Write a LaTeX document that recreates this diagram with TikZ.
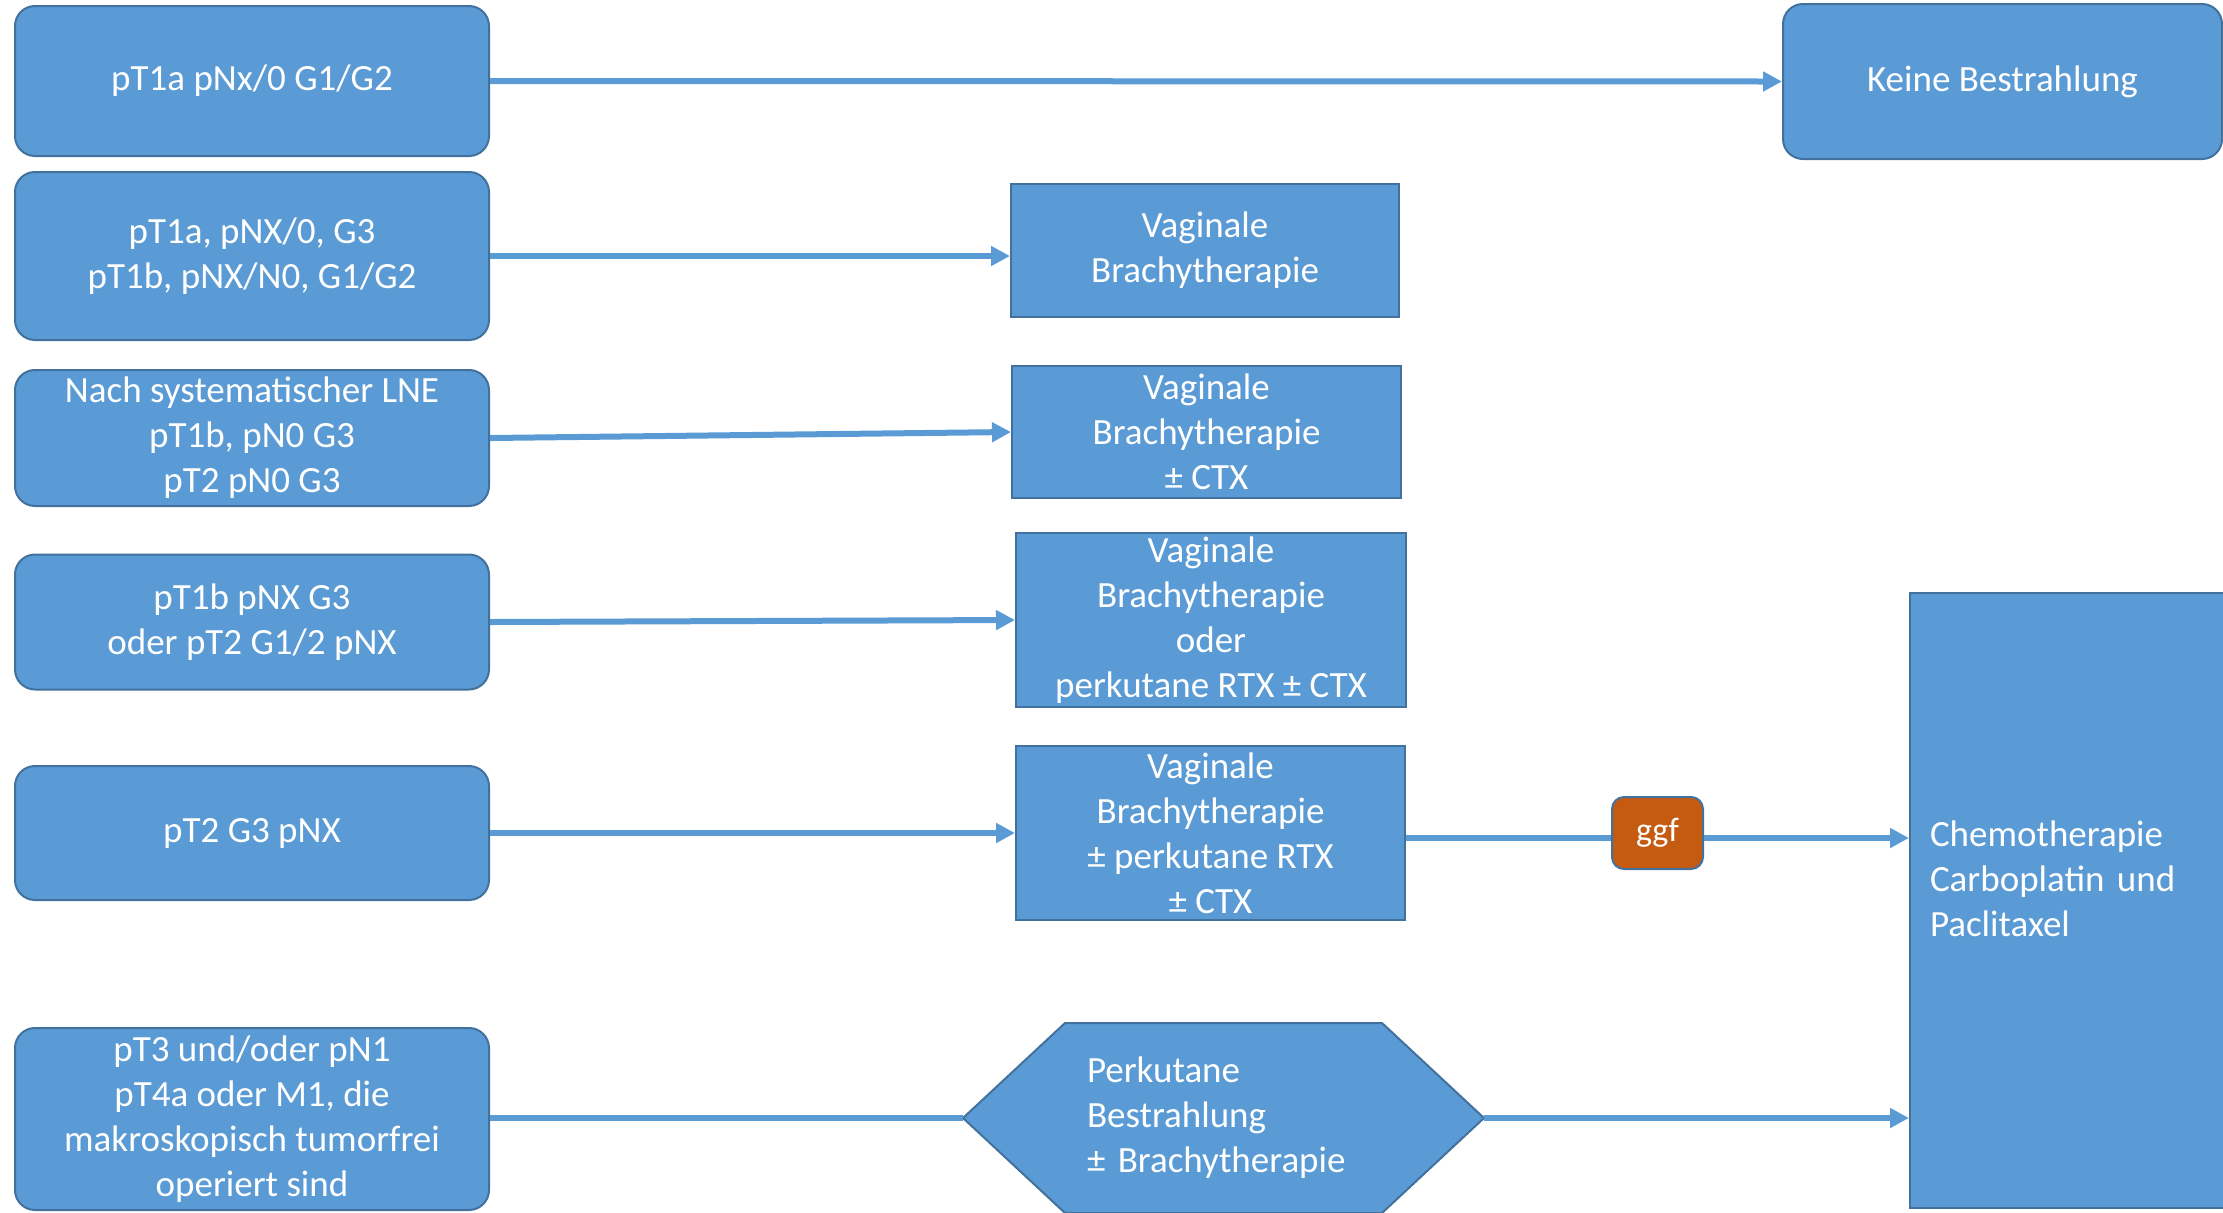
\documentclass[tikz,border=0pt]{standalone}
\usepackage{fontspec}
\setmainfont{Carlito}
\usetikzlibrary{arrows.meta,backgrounds,calc}
\definecolor{boxblue}{HTML}{5B9BD5}
\definecolor{boxedge}{HTML}{41719C}
\definecolor{ggforange}{HTML}{C55A11}
\begin{document}
\begin{tikzpicture}[x=0.5pt,y=-0.5pt,
  base/.style={fill=boxblue, draw=boxedge, line width=1pt, text=white,
    font=\fontsize{18.5pt}{22.5pt}\selectfont, inner sep=0pt, align=center},
  rbox/.style={base, rounded corners=10pt},
  sbox/.style={base},
  conn/.style={draw=boxblue, line width=3pt},
  arr/.style={conn, -{Triangle[length=9.5pt,width=9.5pt]}},
]
\useasboundingbox (0,0) rectangle (2223,1212);
\clip (0,0) rectangle (2223,1212);

% left column
\node[rbox, minimum width=237pt, minimum height=75pt] (b1) at (252,81) {pT1a pNx/0 G1/G2};
\node[rbox, minimum width=237pt, minimum height=84pt] (b2) at (252,256) {pT1a, pNX/0, G3\\pT1b, pNX/N0, G1/G2};
\node[rbox, minimum width=237pt, minimum height=68pt] (b3) at (252,438) {Nach systematischer LNE\\pT1b, pN0 G3\\pT2 pN0 G3};
\node[rbox, minimum width=237pt, minimum height=67.5pt] (b4) at (252,622) {pT1b pNX G3\\oder pT2 G1/2 pNX};
\node[rbox, minimum width=237pt, minimum height=67pt] (b5) at (252,833) {pT2 G3 pNX};
\node[rbox, minimum width=237pt, minimum height=91pt] (b6) at (252,1119) {pT3 und/oder pN1\\pT4a oder M1, die\\makroskopisch tumorfrei\\operiert sind};

% middle column
\node[sbox, minimum width=194pt, minimum height=66.5pt] (v1) at (1205,250) {Vaginale\\Brachytherapie};
\node[sbox, minimum width=194.5pt, minimum height=66pt] (v2) at (1206.5,432) {Vaginale\\Brachytherapie\\± CTX};
\node[sbox, minimum width=195pt, minimum height=87pt] (v3) at (1211,620) {Vaginale\\Brachytherapie\\oder\\perkutane RTX ± CTX};
\node[sbox, minimum width=194.5pt, minimum height=87pt] (v4) at (1210.5,833) {Vaginale\\Brachytherapie\\± perkutane RTX\\± CTX};

% hexagon
\node[base, fill=none, draw=none, minimum width=259.5pt, minimum height=94pt,
  text width=136.5pt, inner xsep=61.5pt, align=left] (hex) at (1223.5,1118)
  {Perkutane\\Bestrahlung\\± Brachytherapie};
\begin{pgfonlayer}{background}
\filldraw[fill=boxblue, draw=boxedge, line width=1pt]
  (hex.west) -- ($(hex.north west)+(102,0)$) -- ($(hex.north east)+(-102,0)$)
  -- (hex.east) -- ($(hex.south east)+(-102,0)$) -- ($(hex.south west)+(102,0)$) -- cycle;
\end{pgfonlayer}

% right column
\node[rbox, minimum width=219.5pt, minimum height=77.5pt] (keine) at (2002.5,81.5) {Keine Bestrahlung};
\node[sbox, minimum width=165pt, minimum height=307.5pt, text width=145pt, inner xsep=10pt,
  text depth=67pt, align=left] (chemo) at (2075,900.5)
  {Chemotherapie\\Carboplatin und\\Paclitaxel};
\node[base, fill=ggforange, draw=boxedge, rounded corners=6pt, minimum width=45.5pt, minimum height=36pt,
  font=\fontsize{17pt}{20pt}\selectfont] (ggf) at (1657.5,833) {ggf};

% connectors
\draw[arr] (b1.east) -- (keine.west);
\draw[arr] (b2.east) -- (v1.west |- b2.east);
\draw[arr] (b3.east) -- (v2.west);
\draw[arr] (b4.east) -- (v3.west);
\draw[arr] (b5.east) -- (v4.west);
\draw[conn] ($(v4.east)+(0,5)$) -- ($(ggf.west)+(0,5)$);
\draw[arr] ($(ggf.east)+(0,5)$) -- ($(ggf.east -| chemo.west)+(0,5)$);
\draw[conn] (b6.east |- hex.west) -- (hex.west);
\draw[arr] (hex.east) -- (hex.east -| chemo.west);
\end{tikzpicture}
\end{document}
